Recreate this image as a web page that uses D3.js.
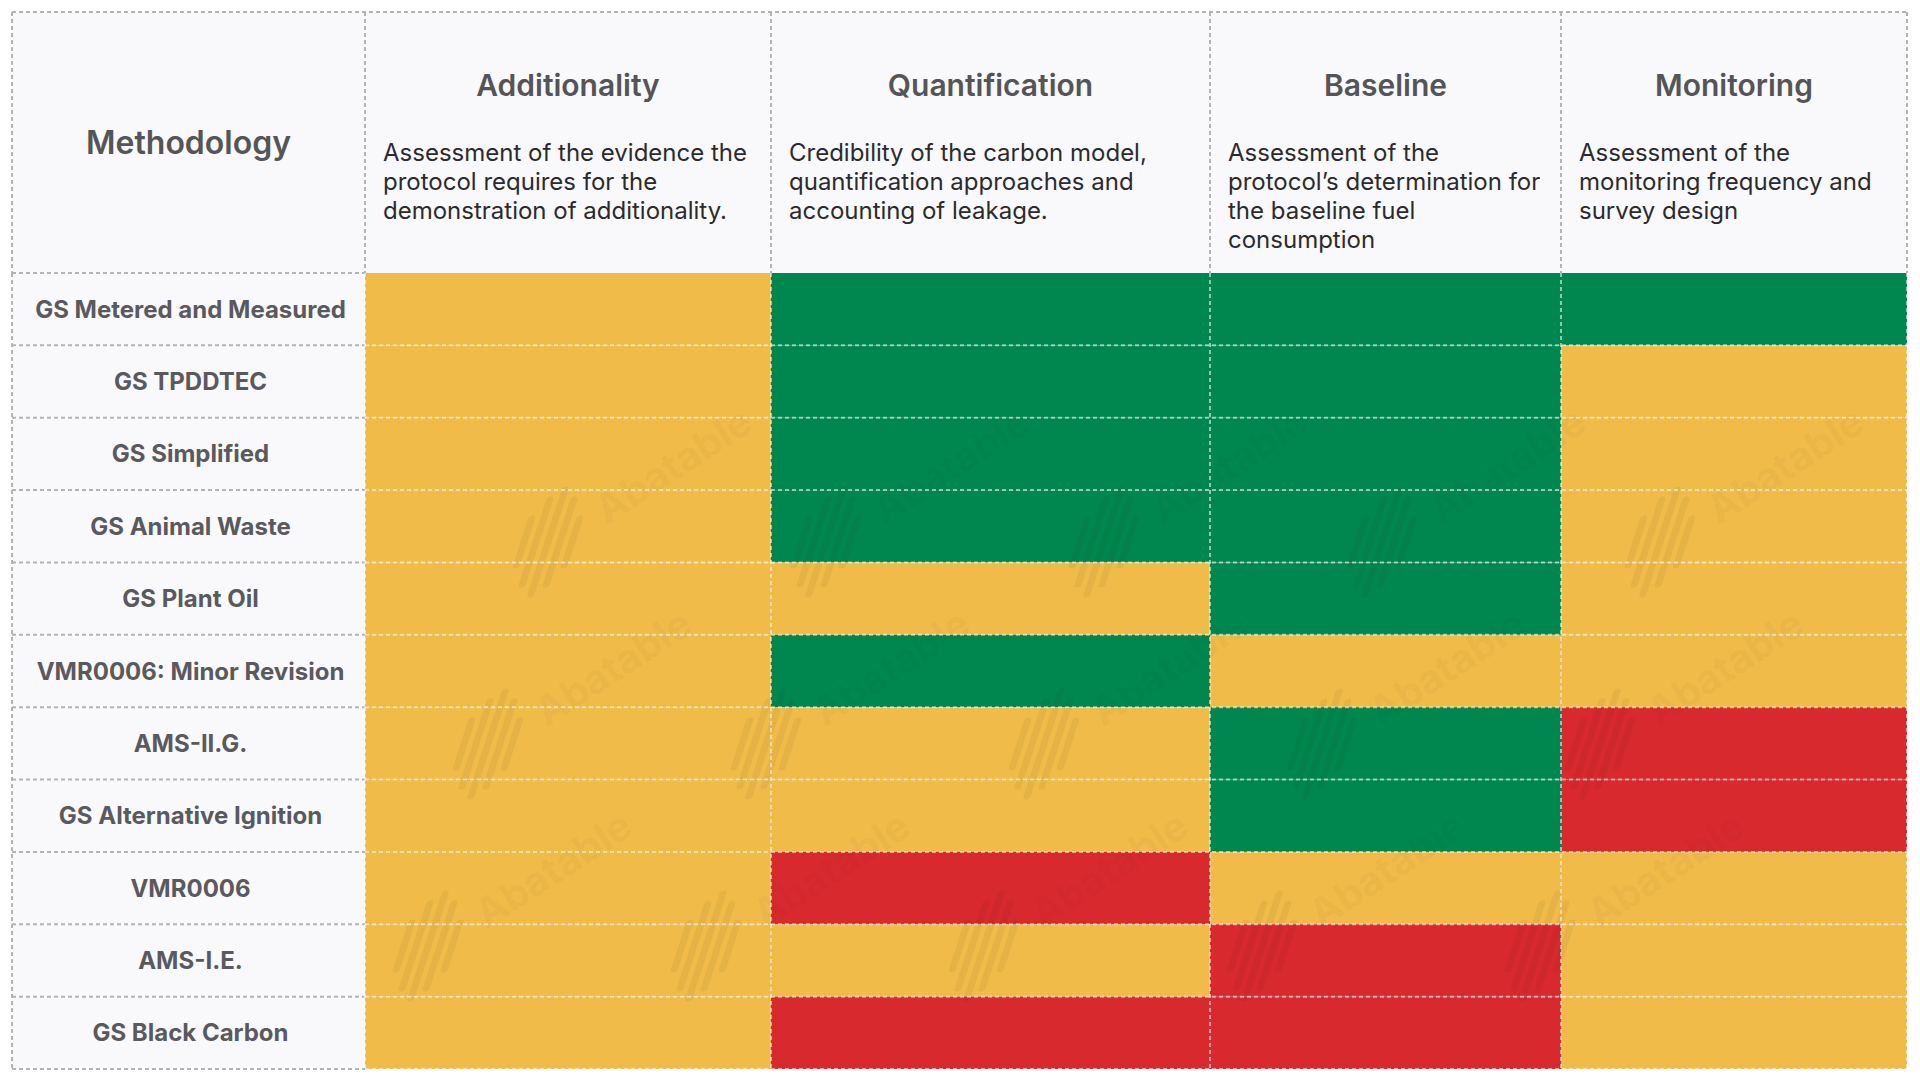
<!DOCTYPE html>
<html>
<head>
<meta charset="utf-8">
<script src="https://cdn.jsdelivr.net/npm/d3@7"></script>
<style>
  html, body { margin: 0; padding: 0; background: #ffffff; }
  svg { display: block; font-family: Inter, "Noto Sans", sans-serif; }
</style>
</head>
<body>
<svg id="chart" width="1920" height="1080"></svg>
<script>
// Zeilen (Methodiken)
const methodologies = [
  "GS Metered and Measured",
  "GS TPDDTEC",
  "GS Simplified",
  "GS Animal Waste",
  "GS Plant Oil",
  "VMR0006: Minor Revision",
  "AMS-II.G.",
  "GS Alternative Ignition",
  "VMR0006",
  "AMS-I.E.",
  "GS Black Carbon"
];

// Spalten (Kriterien) mit Beschreibung, Zeilenumbrüche wie im Original
const criteria = ["Additionality", "Quantification", "Baseline", "Monitoring"];
const descriptions = [
  "Assessment of the evidence the\nprotocol requires for the\ndemonstration of additionality.",
  "Credibility of the carbon model,\nquantification approaches and\naccounting of leakage.",
  "Assessment of the\nprotocol\u2019s determination for\nthe baseline fuel\nconsumption",
  "Assessment of the\nmonitoring frequency and\nsurvey design"
];

// Bewertung: "high" = grün, "medium" = gelb, "low" = rot
const additionality  = ["medium","medium","medium","medium","medium","medium","medium","medium","medium","medium","medium"];
const quantification = ["high","high","high","high","medium","high","medium","medium","low","medium","low"];
const baseline       = ["high","high","high","high","high","medium","high","high","medium","low","low"];
const monitoring     = ["high","medium","medium","medium","medium","medium","low","low","medium","medium","medium"];
const ratings = [additionality, quantification, baseline, monitoring];

// Layout
const tLeft = 12, tTop = 12, tRight = 1907, tBottom = 1069, headerBottom = 273;
const labelWidth = 353;
const colWidths = [406, 439, 351, 346];
const gridLine = "#b4b4b8";
const panelBg = "#f9f8fb";

const color = d3.scaleOrdinal()
  .domain(["high", "medium", "low"])
  .range(["#00874f", "#f1bb4a", "#d8292f"]);

// x-Positionen aus den Spaltenbreiten
const colStarts = colWidths.map((cw, i) => tLeft + labelWidth + d3.sum(colWidths.slice(0, i)));
const x = d3.scaleOrdinal().domain(criteria).range(colStarts);
const w = d3.scaleOrdinal().domain(criteria).range(colWidths);

const y = d3.scaleBand()
  .domain(methodologies)
  .range([headerBottom, tBottom])
  .padding(0);

const svg = d3.select("#chart");

// Hintergrund für Kopf und Beschriftungsspalte
svg.append("rect")
  .attr("x", tLeft).attr("y", tTop)
  .attr("width", tRight - tLeft).attr("height", headerBottom - tTop)
  .attr("fill", panelBg);
svg.append("rect")
  .attr("x", tLeft).attr("y", headerBottom)
  .attr("width", labelWidth).attr("height", tBottom - headerBottom)
  .attr("fill", panelBg);

// Farbige Zellen
const cells = [];
criteria.forEach(function(c, ci){
  methodologies.forEach(function(m, mi){
    cells.push({crit: c, meth: m, val: ratings[ci][mi]});
  });
});

svg.append("g").selectAll("rect")
  .data(cells)
  .join("rect")
  .attr("x", d => x(d.crit))
  .attr("y", d => y(d.meth))
  .attr("width", d => w(d.crit))
  .attr("height", y.bandwidth())
  .attr("fill", d => color(d.val));

// Wasserzeichen (nur über den farbigen Zellen, nur ganze Schriftzüge)
const gridX0 = tLeft + labelWidth;
svg.append("clipPath").attr("id", "gridClip")
  .append("rect")
  .attr("x", gridX0).attr("y", headerBottom)
  .attr("width", tRight - gridX0).attr("height", tBottom - headerBottom);

const marks = [];
for (let r = 0; r < 3; r++) {
  for (let k = -1; k < 6; k++) {
    const cx = 673 - r * 60 + k * 278;
    if (cx - 85 > gridX0 && cx + 85 < tRight) {
      marks.push({cx: cx, cy: 465 + r * 202});
    }
  }
}
const wm = svg.append("g").attr("clip-path", "url(#gridClip)")
  .attr("fill", "rgba(40,30,20,0.055)")
  .attr("stroke", "rgba(40,30,20,0.055)");

const wmItem = wm.selectAll("g.wm")
  .data(marks)
  .join("g")
  .attr("class", "wm");

wmItem.append("text")
  .attr("transform", d => `translate(${d.cx},${d.cy}) rotate(-33)`)
  .attr("text-anchor", "middle")
  .attr("dominant-baseline", "central")
  .attr("font-size", 40)
  .attr("font-weight", 700)
  .attr("stroke", "none")
  .text("Abatable");

// Logo: schräge Streifen
const stripes = [[-24, 14, 30], [-12, 4, 44], [0, 0, 52], [12, 4, 44], [24, 14, 30]];
wmItem.append("g")
  .attr("transform", d => `translate(${d.cx - 125},${d.cy + 77}) skewX(-18)`)
  .selectAll("line")
  .data(stripes)
  .join("line")
  .attr("x1", s => s[0]).attr("x2", s => s[0])
  .attr("y1", s => -s[2] + s[1] / 2).attr("y2", s => s[2] - s[1] / 2)
  .attr("stroke-width", 7)
  .attr("stroke-linecap", "round");

// Gitterlinien
const dash = "4,3";
const rowEdges = methodologies.map(m => y(m)).concat([tBottom]);
const colEdges = [gridX0].concat(criteria.map(c => x(c) + w(c)));

const lines = svg.append("g").attr("fill", "none").attr("stroke-width", 2).attr("stroke-dasharray", dash);

// graue Linien im hellen Bereich
lines.append("line")
  .attr("x1", tLeft).attr("x2", tRight).attr("y1", tTop).attr("y2", tTop)
  .attr("stroke", gridLine);
lines.append("line")
  .attr("x1", tLeft).attr("x2", gridX0).attr("y1", headerBottom).attr("y2", headerBottom)
  .attr("stroke", gridLine);
lines.selectAll("line.vh")
  .data([tLeft].concat(colEdges))
  .join("line")
  .attr("class", "vh")
  .attr("x1", d => d).attr("x2", d => d)
  .attr("y1", tTop).attr("y2", headerBottom)
  .attr("stroke", gridLine);
lines.selectAll("line.rl")
  .data(rowEdges.slice(1))
  .join("line")
  .attr("class", "rl")
  .attr("x1", tLeft).attr("x2", gridX0)
  .attr("y1", d => d).attr("y2", d => d)
  .attr("stroke", gridLine);
lines.append("line")
  .attr("x1", tLeft).attr("x2", tLeft).attr("y1", headerBottom).attr("y2", tBottom)
  .attr("stroke", gridLine);

// helle Linien über den Farben
lines.selectAll("line.rc")
  .data(rowEdges.slice(1))
  .join("line")
  .attr("class", "rc")
  .attr("x1", gridX0).attr("x2", tRight)
  .attr("y1", d => d).attr("y2", d => d)
  .attr("stroke", "rgba(255,255,255,0.55)");
lines.selectAll("line.vc")
  .data(colEdges)
  .join("line")
  .attr("class", "vc")
  .attr("x1", d => d).attr("x2", d => d)
  .attr("y1", headerBottom).attr("y2", tBottom)
  .attr("stroke", "rgba(255,255,255,0.55)");

// Kopfzeile
svg.append("text")
  .attr("x", tLeft + labelWidth / 2)
  .attr("y", (tTop + headerBottom) / 2)
  .attr("text-anchor", "middle")
  .attr("dominant-baseline", "central")
  .attr("font-size", 32)
  .attr("font-weight", 600)
  .attr("fill", "#555558")
  .text("Methodology");

const head = svg.append("g").selectAll("g")
  .data(criteria)
  .join("g");

head.append("text")
  .attr("x", d => x(d) + w(d) / 2)
  .attr("y", 96)
  .attr("text-anchor", "middle")
  .attr("font-size", 30)
  .attr("font-weight", 600)
  .attr("fill", "#555558")
  .text(d => d);

head.append("text")
  .attr("font-size", 24)
  .attr("font-weight", 400)
  .attr("fill", "#2b2b2e")
  .each(function(d, i){
    const t = d3.select(this);
    descriptions[i].split("\n").forEach(function(line, li){
      t.append("tspan")
        .attr("x", x(d) + 18)
        .attr("y", 161 + li * 29)
        .text(line);
    });
  });

// Beschriftungen der Zeilen
svg.append("g").selectAll("text")
  .data(methodologies)
  .join("text")
  .attr("x", tLeft + labelWidth / 2 + 2)
  .attr("y", d => y(d) + y.bandwidth() / 2)
  .attr("text-anchor", "middle")
  .attr("dominant-baseline", "central")
  .attr("font-size", 24)
  .attr("font-weight", 700)
  .attr("fill", "#5a5a5e")
  .text(d => d);
</script>
</body>
</html>
